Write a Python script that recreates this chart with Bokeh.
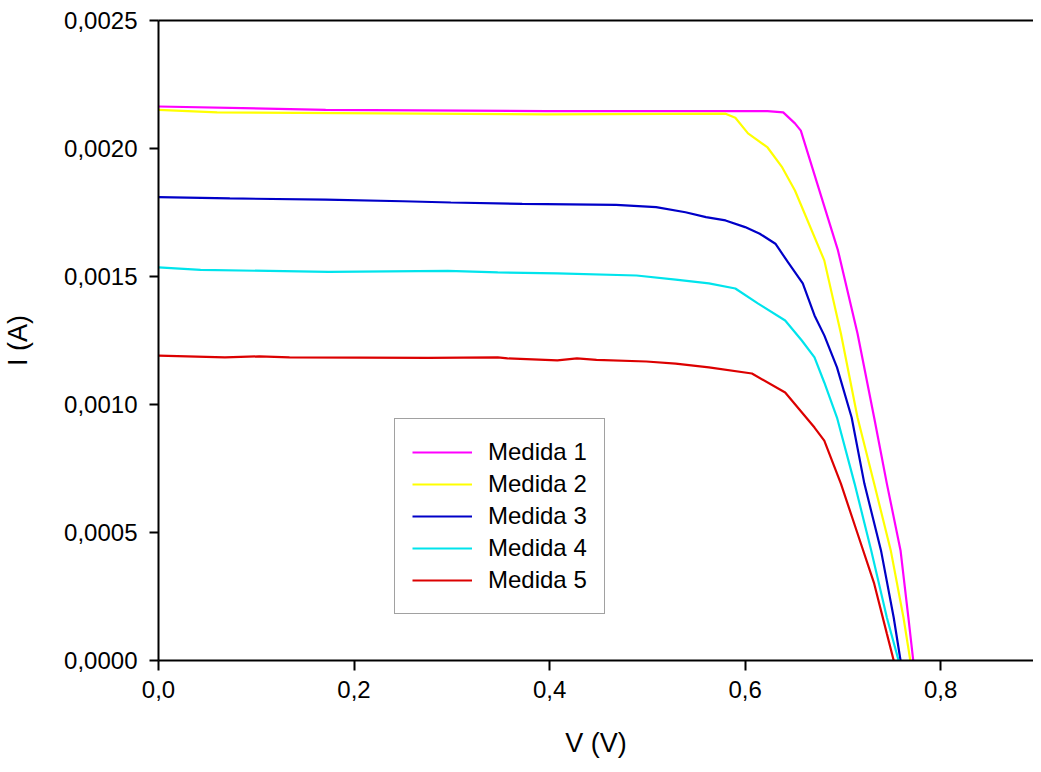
from bokeh.plotting import figure
from bokeh.models import (LinearAxis, FixedTicker, CustomJSTickFormatter, Range1d,
                          Legend, LegendItem)
from bokeh.embed import file_html
from bokeh.resources import INLINE

series_names = ["Medida 1", "Medida 2", "Medida 3", "Medida 4", "Medida 5"]
series_colors = ["#ff00ff", "#ffff00", "#0000c8", "#00e4ec", "#dc0000"]

v1 = [0.0, 0.171, 0.397, 0.623, 0.639, 0.651, 0.657, 0.695, 0.715, 0.732, 0.745, 0.759, 0.767, 0.772]
i1 = [0.002164, 0.002151, 0.002146, 0.002146, 0.002141, 0.002098, 0.002070, 0.001602, 0.001277,
      0.000949, 0.000691, 0.000430, 0.000168, 0.0]

v2 = [0.0, 0.060, 0.397, 0.580, 0.590, 0.603, 0.623, 0.638, 0.651, 0.681, 0.698, 0.715, 0.732,
      0.749, 0.762, 0.769]
i2 = [0.002151, 0.002141, 0.002133, 0.002136, 0.002120, 0.002059, 0.002004, 0.001926, 0.001836,
      0.001563, 0.001277, 0.000949, 0.000691, 0.000430, 0.000168, 0.0]

v3 = [0.0, 0.073, 0.171, 0.250, 0.299, 0.372, 0.468, 0.509, 0.539, 0.560, 0.580, 0.600, 0.615,
      0.631, 0.644, 0.659, 0.671, 0.681, 0.694, 0.709, 0.722, 0.739, 0.752, 0.759]
i3 = [0.001810, 0.001805, 0.001800, 0.001794, 0.001789, 0.001784, 0.001780, 0.001771, 0.001751,
      0.001732, 0.001719, 0.001693, 0.001667, 0.001628, 0.001555, 0.001473, 0.001348, 0.001270,
      0.001145, 0.000949, 0.000691, 0.000430, 0.000168, 0.0]

v4 = [0.0, 0.043, 0.174, 0.296, 0.347, 0.408, 0.489, 0.529, 0.563, 0.590, 0.613, 0.641, 0.658,
      0.671, 0.681, 0.694, 0.712, 0.729, 0.745, 0.757]
i4 = [0.001536, 0.001526, 0.001518, 0.001522, 0.001516, 0.001512, 0.001504, 0.001488, 0.001473,
      0.001453, 0.001395, 0.001328, 0.001250, 0.001184, 0.001086, 0.000949, 0.000691, 0.000430,
      0.000168, 0.0]

v5 = [0.0, 0.068, 0.103, 0.134, 0.276, 0.347, 0.357, 0.408, 0.428, 0.448, 0.499, 0.529, 0.563,
      0.607, 0.641, 0.671, 0.681, 0.698, 0.715, 0.732, 0.745, 0.752]
i5 = [0.001191, 0.001184, 0.001188, 0.001184, 0.001182, 0.001184, 0.001180, 0.001172, 0.001180,
      0.001174, 0.001168, 0.001160, 0.001145, 0.001121, 0.001047, 0.000910, 0.000859, 0.000691,
      0.000496, 0.000301, 0.000105, 0.0]

x_ticks = [0.0, 0.2, 0.4, 0.6, 0.8]
y_ticks = [0.0, 0.0005, 0.0010, 0.0015, 0.0020, 0.0025]

FONT = "Liberation Sans"

p = figure(width=1033, height=764, output_backend="svg", toolbar_location=None,
           x_range=Range1d(0, 0.895), y_range=Range1d(0, 0.0025),
           x_axis_label="V (V)", y_axis_label="I (A)")
p.min_border_left = 150
p.min_border_right = 0
p.min_border_top = 20
p.min_border_bottom = 104
p.outline_line_color = None
p.grid.visible = False
p.background_fill_color = "white"
p.border_fill_color = "white"

for ax in (p.xaxis[0], p.yaxis[0]):
    ax.axis_line_color = "black"
    ax.axis_line_width = 2
    ax.major_tick_line_color = "black"
    ax.major_tick_line_width = 2
    ax.major_tick_in = 0
    ax.minor_tick_line_color = None
    ax.major_label_text_font = FONT
    ax.major_label_text_font_size = "24px"
    ax.major_label_text_color = "black"
    ax.axis_label_text_font = FONT
    ax.axis_label_text_font_size = "27px"
    ax.axis_label_text_font_style = "normal"
    ax.axis_label_text_color = "black"

p.xaxis[0].ticker = FixedTicker(ticks=x_ticks)
p.xaxis[0].formatter = CustomJSTickFormatter(code="return tick.toFixed(1).replace('.', ',');")
p.xaxis[0].major_tick_out = 10
p.xaxis[0].major_label_standoff = 10
p.xaxis[0].axis_label_standoff = 27

p.yaxis[0].ticker = FixedTicker(ticks=y_ticks)
p.yaxis[0].formatter = CustomJSTickFormatter(code="return tick.toFixed(4).replace('.', ',');")
p.yaxis[0].major_tick_out = 9
p.yaxis[0].major_label_standoff = 12
p.yaxis[0].axis_label_standoff = 28

top = LinearAxis(ticker=FixedTicker(ticks=[]), axis_line_width=2, axis_line_color="black",
                 major_tick_line_color=None, minor_tick_line_color=None,
                 major_label_text_font_size="0px")
p.add_layout(top, "above")

vs = [v1, v2, v3, v4, v5]
is_ = [i1, i2, i3, i4, i5]
items = []
for name, color, vv, ii in zip(series_names, series_colors, vs, is_):
    r = p.line(vv, ii, line_color=color, line_width=2.2)
    items.append(LegendItem(label=name, renderers=[r]))

legend = Legend(items=items, location=(236, 46))
legend.label_text_font = FONT
legend.label_text_font_size = "24px"
legend.label_text_color = "black"
legend.glyph_width = 60
legend.glyph_height = 32
legend.label_height = 32
legend.label_standoff = 16
legend.spacing = 0
legend.padding = 17
legend.margin = 0
legend.border_line_color = "#444444"
legend.border_line_width = 1.5
legend.background_fill_alpha = 1
p.add_layout(legend, "center")

open("out.html", "w").write(file_html(p, INLINE))
